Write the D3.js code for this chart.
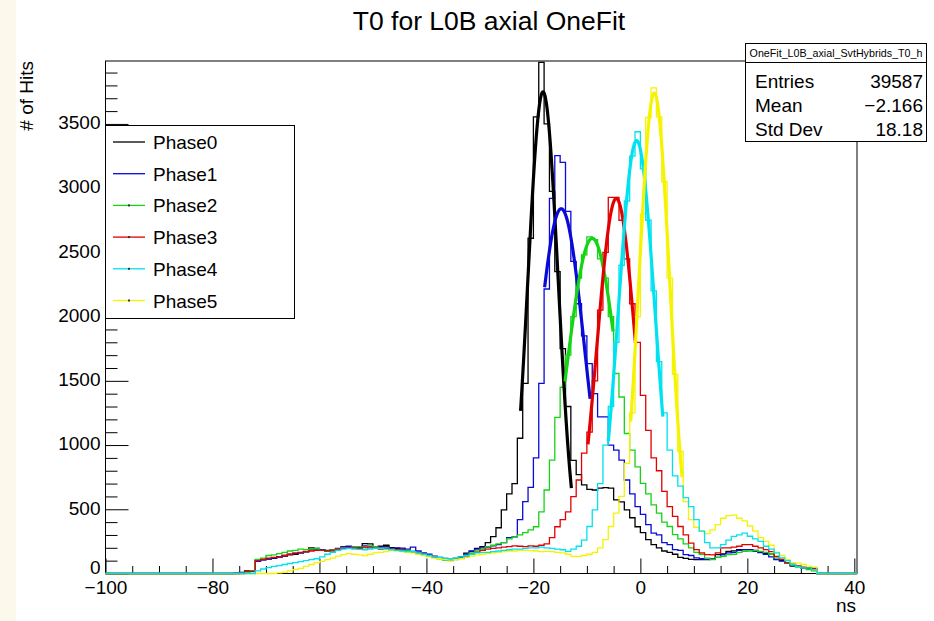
<!DOCTYPE html>
<html>
<head>
<meta charset="utf-8">
<script src="https://cdn.jsdelivr.net/npm/d3@7"></script>
<style>
  body { margin: 0; background: #fff; }
  text { font-family: "Liberation Sans", Arial, Helvetica, sans-serif; }
</style>
</head>
<body>
<div id="chart"></div>
<script>
// histogram contents, 1 ns bins, first bin starts at firstEdge
const firstEdge = -78
const phaseNames = ["Phase0", "Phase1", "Phase2", "Phase3", "Phase4", "Phase5"]

const phase0 = [
  0, 0, 0, 3, 20, 22, 105, 110, 115, 118,
  130, 136, 145, 150, 160, 168, 200, 196, 182, 172,
  176, 190, 198, 200, 204, 205, 232, 230, 205, 212,
  220, 202, 195, 190, 180, 172, 162, 155, 142, 132,
  122, 116, 112, 118, 128, 158, 172, 195, 210, 240,
  287, 356, 496, 620, 700, 1053, 1480, 2610, 3555, 3980,
  3500, 2975, 2350, 1750, 1300, 880, 770, 690, 655, 650,
  665, 668, 665, 573, 558, 496, 434, 364, 318, 263,
  225, 200, 175, 165, 150, 125, 118, 110, 108, 108,
  108, 112, 147, 152, 173, 176, 186, 186, 186, 180,
  162, 155, 150, 108, 100, 83, 57, 57, 44, 44,
  40, 0]
const phase1 = [
  0, 0, 5, 8, 15, 20, 95, 105, 112, 120,
  128, 140, 150, 155, 160, 170, 185, 190, 185, 180,
  185, 195, 210, 212, 205, 200, 215, 210, 200, 205,
  210, 195, 200, 198, 190, 205, 175, 160, 150, 135,
  125, 118, 110, 115, 130, 150, 175, 190, 200, 205,
  215, 225, 240, 280, 285, 420, 560, 670, 900, 1480,
  2215, 2920, 3253, 3200, 2820, 2430, 2100, 1850, 1634, 1400,
  1219, 1219, 1000, 960, 883, 728, 620, 520, 460, 380,
  315, 300, 240, 225, 186, 180, 147, 140, 121, 115,
  110, 112, 125, 145, 160, 165, 180, 186, 186, 173,
  165, 150, 130, 110, 96, 80, 70, 55, 44, 44,
  35, 0]
const phase2 = [
  0, 0, 0, 0, 5, 20, 110, 120, 140, 145,
  155, 165, 175, 180, 190, 185, 190, 195, 180, 175,
  185, 190, 200, 195, 205, 210, 200, 215, 205, 195,
  200, 190, 185, 180, 180, 170, 160, 150, 140, 128,
  115, 105, 100, 108, 118, 140, 160, 175, 190, 210,
  220, 230, 240, 270, 285, 300, 318, 340, 364, 480,
  650, 883, 1216, 1450, 1700, 2000, 2300, 2480, 2620, 2600,
  2450, 2300, 2000, 1557, 1374, 1090, 960, 830, 702, 620,
  535, 470, 400, 366, 302, 270, 230, 200, 165, 150,
  120, 108, 125, 134, 147, 150, 165, 173, 175, 178,
  173, 165, 150, 121, 110, 80, 65, 50, 44, 30,
  20, 0]
const phase3 = [
  0, 0, 0, 0, 15, 15, 100, 110, 120, 125,
  130, 140, 150, 160, 165, 170, 175, 180, 180, 178,
  182, 190, 195, 200, 198, 195, 205, 200, 195, 190,
  195, 190, 185, 180, 170, 165, 160, 150, 140, 128,
  120, 112, 105, 110, 118, 130, 150, 165, 180, 190,
  195, 200, 205, 210, 215, 212, 210, 215, 212, 220,
  230, 280, 364, 420, 480, 599, 728, 937, 1100, 1500,
  2050, 2500, 2928, 2928, 2750, 2450, 2100, 1800, 1386, 1115,
  900, 800, 640, 520, 445, 366, 300, 237, 186, 160,
  147, 145, 160, 199, 199, 205, 212, 225, 225, 212,
  200, 186, 170, 134, 110, 83, 70, 57, 50, 44,
  40, 0]
const phase4 = [
  0, 0, 0, 0, 0, 0, 20, 35, 45, 55,
  62, 70, 78, 85, 92, 100, 108, 115, 130, 150,
  165, 180, 190, 195, 190, 188, 185, 190, 195, 195,
  190, 185, 180, 175, 170, 170, 160, 150, 140, 130,
  125, 118, 115, 120, 130, 140, 150, 160, 165, 165,
  170, 175, 180, 185, 190, 190, 195, 200, 200, 205,
  200, 195, 190, 185, 172, 190, 212, 260, 366, 496,
  700, 1000, 1300, 1800, 2400, 2900, 3250, 3439, 3150, 2750,
  2200, 1650, 1250, 960, 760, 680, 590, 520, 420, 330,
  240, 200, 200, 225, 260, 289, 300, 315, 290, 270,
  250, 212, 190, 160, 121, 100, 70, 55, 44, 44,
  30, 0]
const phase5 = [
  0, 0, 0, 0, 0, 0, 0, 0, 0, 0,
  5, 10, 20, 30, 40, 55, 70, 85, 95, 108,
  120, 135, 147, 155, 150, 145, 140, 150, 160, 165,
  170, 180, 175, 170, 165, 160, 150, 140, 130, 120,
  115, 110, 105, 110, 115, 125, 135, 145, 150, 155,
  160, 165, 170, 175, 175, 180, 180, 178, 175, 170,
  172, 170, 165, 160, 150, 134, 134, 140, 150, 165,
  200, 263, 366, 470, 600, 857, 1250, 2000, 2800, 3550,
  3780, 3555, 3050, 2300, 1550, 950, 560, 420, 360, 330,
  310, 340, 380, 430, 450, 455, 430, 410, 370, 330,
  280, 250, 220, 165, 140, 108, 85, 80, 70, 57,
  50, 0]

// gaussian fits drawn over the fit range
const fitAmp = [3750, 2840, 2610, 2920, 3370, 3740]
const fitMean = [-18.2, -14.8, -9.0, -4.5, -0.7, 2.6]
const fitSigma = [2.85, 4.45, 4.83, 3.63, 3.44, 2.9]
const fitLow = [-22.4, -17.9, -14.1, -9.8, -6.0, -1.8]
const fitHigh = [-12.9, -9.4, -5.1, -0.9, 4.2, 7.8]

const xTicks = [-100, -80, -60, -40, -20, 0, 20, 40]
const yTicks = [0, 500, 1000, 1500, 2000, 2500, 3000, 3500]

const histName = "OneFit_L0B_axial_SvtHybrids_T0_h"
const statNames = ["Entries", "Mean", "Std Dev"]
const statValues = ["39587", "\u22122.166", "18.18"]

const colors = ["#000000", "#0a0ad8", "#14d414", "#e30000", "#00e2f0", "#f6f300"]
const phases = [phase0, phase1, phase2, phase3, phase4, phase5]

var frame = {left: 105.5, right: 857, top: 61, bottom: 573.5}

let svg = d3.select('#chart')
  .append('svg')
    .attr('width', 934)
    .attr('height', 621)

svg.append('rect').attr('width', 934).attr('height', 621).attr('fill', '#fff')
svg.append('rect').attr('width', 16).attr('height', 621).attr('fill', '#fdf8ec')

let x = d3.scaleLinear().domain([-100, 40.5]).range([frame.left, frame.right])
let y = d3.scaleLinear().domain([0, 3990]).range([frame.bottom, frame.top])

// title
svg.append('text')
  .attr('x', 489).attr('y', 30)
  .attr('text-anchor', 'middle')
  .attr('font-size', '26.5px')
  .text('T0 for L0B axial OneFit')

// frame
svg.append('rect')
  .attr('x', frame.left).attr('y', frame.top)
  .attr('width', frame.right - frame.left).attr('height', frame.bottom - frame.top)
  .attr('fill', 'none').attr('stroke', '#000').attr('stroke-width', 1)

// axes, ticks point into the frame
let xMinor = d3.range(-100, 41, 5).filter(d => d % 20 != 0)
let gx = svg.append('g').attr('transform', 'translate(0,' + frame.bottom + ')')
  .call(d3.axisBottom(x).tickValues(xTicks).tickSize(-15).tickPadding(7).tickFormat(d3.format('d')))
let gxm = svg.append('g').attr('transform', 'translate(0,' + frame.bottom + ')')
  .call(d3.axisBottom(x).tickValues(xMinor).tickSize(-7.5).tickFormat(''))

let yMinor = d3.range(0, 3991, 100).filter(d => d % 500 != 0)
let gy = svg.append('g').attr('transform', 'translate(' + frame.left + ',0)')
  .call(d3.axisLeft(y).tickValues(yTicks).tickSize(-23).tickPadding(5).tickFormat(d3.format('d')))
let gym = svg.append('g').attr('transform', 'translate(' + frame.left + ',0)')
  .call(d3.axisLeft(y).tickValues(yMinor).tickSize(-12).tickFormat(''))

for (const g of [gx, gxm, gy, gym]) {
  g.attr('font-size', null).attr('font-family', null)
  g.select('.domain').remove()
  g.selectAll('line').attr('stroke', '#000')
  g.selectAll('text').attr('font-size', '19px').attr('fill', '#000')
}
gy.selectAll('text').attr('dy', '0.25em')
// the zero label sits a little higher, clear of the x labels
gy.selectAll('.tick').filter(d => d == 0).select('text').attr('dy', '-0.02em')

svg.append('text')
  .attr('x', 856).attr('y', 612)
  .attr('text-anchor', 'end')
  .attr('font-size', '19px')
  .text('ns')

svg.append('text')
  .attr('transform', 'translate(33,61) rotate(-90)')
  .attr('text-anchor', 'end')
  .attr('font-size', '19px')
  .text('# of Hits')

// step histograms over the full axis range
function binsOf(values) {
  let out = []
  for (let e = -100; e < 40.5; e++) {
    let i = e - firstEdge
    out.push({e: e, v: (i >= 0 && i < values.length) ? values[i] : 0})
  }
  out.push({e: 40.5, v: 0})
  return out
}

let step = d3.line()
  .x(d => x(d.e))
  .y(d => y(d.v))
  .curve(d3.curveStepAfter)

let drawOrder = [0, 1, 2, 3, 5, 4]
svg.append('g')
  .selectAll('path')
  .data(drawOrder)
  .enter()
  .append('path')
    .attr('d', i => step(binsOf(phases[i])))
    .attr('fill', 'none')
    .attr('stroke', i => colors[i])
    .attr('stroke-width', 1.3)

let fitLine = d3.line().x(d => x(d[0])).y(d => y(d[1]))
svg.append('g')
  .selectAll('path')
  .data(d3.range(6))
  .enter()
  .append('path')
    .attr('d', i => {
      let pts = d3.range(fitLow[i], fitHigh[i] + 0.001, (fitHigh[i] - fitLow[i]) / 100)
        .map(t => [t, fitAmp[i] * Math.exp(-0.5 * Math.pow((t - fitMean[i]) / fitSigma[i], 2))])
      return fitLine(pts)
    })
    .attr('fill', 'none')
    .attr('stroke', i => colors[i])
    .attr('stroke-width', 3.2)
    .attr('stroke-linejoin', 'round')

// legend
let legend = svg.append('g')
legend.append('rect')
  .attr('x', 105.5).attr('y', 125.5).attr('width', 189).attr('height', 193)
  .attr('fill', '#fff').attr('stroke', '#000')
let entry = legend.selectAll('g.entry')
  .data(phaseNames)
  .enter()
  .append('g')
    .attr('class', 'entry')
    .attr('transform', (d, i) => 'translate(0,' + (142 + i * 31.7) + ')')
entry.append('line')
  .attr('x1', 113).attr('x2', 145)
  .attr('stroke', (d, i) => colors[i]).attr('stroke-width', 1.3)
entry.filter((d, i) => i >= 2).append('rect')
  .attr('x', 128).attr('y', -1).attr('width', 2).attr('height', 2)
  .attr('fill', '#333')
entry.append('text')
  .attr('x', 153).attr('y', 7)
  .attr('font-size', '19px')
  .text(d => d)

// stats box
let stats = svg.append('g')
stats.append('rect')
  .attr('x', 745.5).attr('y', 43.5).attr('width', 181).attr('height', 19)
  .attr('fill', '#fff').attr('stroke', '#000')
stats.append('rect')
  .attr('x', 745.5).attr('y', 62.5).attr('width', 181).attr('height', 79)
  .attr('fill', '#fff').attr('stroke', '#000')
stats.append('text')
  .attr('x', 836).attr('y', 56.5)
  .attr('text-anchor', 'middle')
  .attr('font-size', '10.7px')
  .text(histName)
stats.selectAll('text.name')
  .data(statNames)
  .enter()
  .append('text')
    .attr('class', 'name')
    .attr('x', 755).attr('y', (d, i) => 87.5 + i * 24)
    .attr('font-size', '19px')
    .text(d => d)
stats.selectAll('text.val')
  .data(statValues)
  .enter()
  .append('text')
    .attr('class', 'val')
    .attr('x', 923).attr('y', (d, i) => 87.5 + i * 24)
    .attr('text-anchor', 'end')
    .attr('font-size', '19px')
    .text(d => d)
</script>
</body>
</html>
